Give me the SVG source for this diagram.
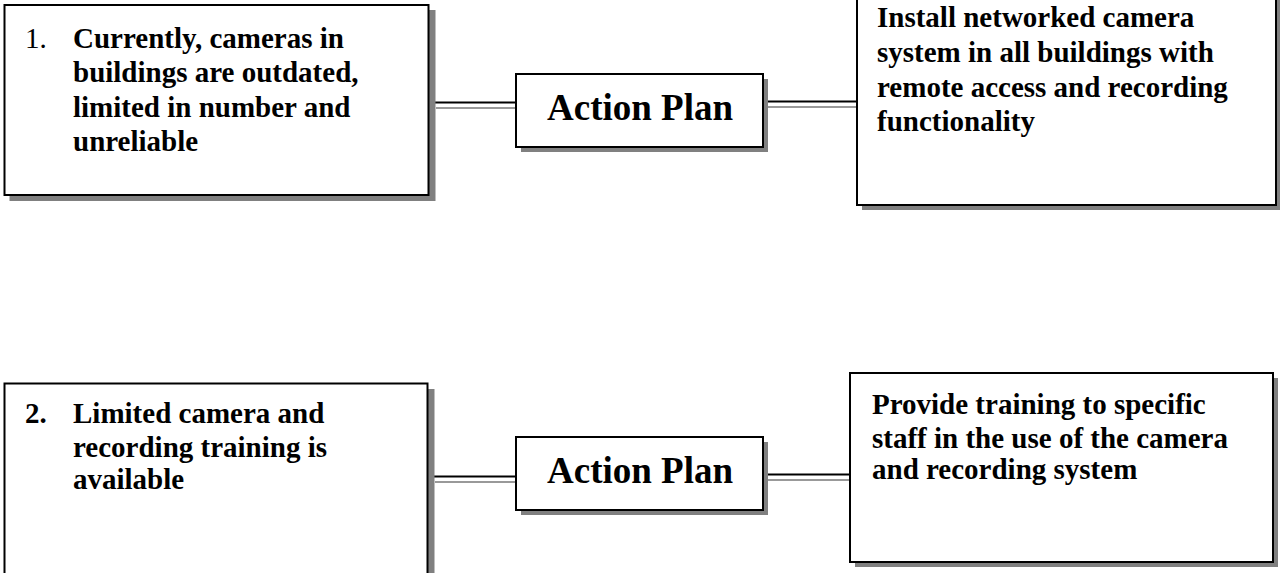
<svg xmlns="http://www.w3.org/2000/svg" width="1280" height="573" viewBox="0 0 1280 573">
<style>
.box{fill:#fff;stroke:#000;stroke-width:2}
.sh{fill:#808080}
.t{font-family:"Liberation Serif","Times New Roman",serif;font-weight:bold;font-size:29px;fill:#000}
.n{font-weight:normal}
.ap{font-family:"Liberation Serif","Times New Roman",serif;font-weight:bold;font-size:37px;fill:#000;text-anchor:middle}
.c{stroke:#000;stroke-width:1.8;fill:none}
.cs{stroke:#999;stroke-width:1.8;fill:none}
</style>
<rect width="1280" height="573" fill="#fff"/>
<g id="connectors">
<line class="cs" x1="436" y1="108" x2="516" y2="108"/>
<line class="c" x1="429" y1="102.5" x2="516" y2="102.5"/>
<line class="cs" x1="768" y1="107" x2="860" y2="107"/>
<line class="c" x1="763" y1="101.5" x2="857" y2="101.5"/>
<line class="cs" x1="435" y1="482" x2="516" y2="482"/>
<line class="c" x1="428" y1="476.5" x2="516" y2="476.5"/>
<line class="cs" x1="768" y1="480" x2="857" y2="480"/>
<line class="c" x1="763" y1="474.5" x2="850" y2="474.5"/>
</g>
<g id="problem1">
<rect class="sh" x="9.5" y="10" width="426" height="191"/>
<rect class="box" x="4.5" y="5" width="424" height="190"/>
<text class="t" x="25" y="47.5"><tspan class="n">1.</tspan></text>
<text class="t" x="73" y="47.5">Currently, cameras in</text>
<text class="t" x="73" y="82">buildings are outdated,</text>
<text class="t" x="73" y="116.5">limited in number and</text>
<text class="t" x="73" y="151">unreliable</text>
</g>
<g id="action1">
<rect class="sh" x="521" y="79" width="247" height="73"/>
<rect class="box" x="516" y="74" width="247" height="73"/>
<text class="ap" x="640" y="120">Action Plan</text>
</g>
<g id="solution1">
<rect class="sh" x="862" y="-5" width="418" height="215"/>
<rect class="box" x="857" y="-10" width="419" height="215"/>
<text class="t" x="877" y="27">Install networked camera</text>
<text class="t" x="877" y="62">system in all buildings with</text>
<text class="t" x="877" y="97">remote access and recording</text>
<text class="t" x="877" y="131">functionality</text>
</g>
<g id="problem2">
<rect class="sh" x="9.5" y="389" width="425" height="200"/>
<rect class="box" x="4.5" y="383.5" width="423" height="200"/>
<text class="t" x="25" y="423">2.</text>
<text class="t" x="73" y="423">Limited camera and</text>
<text class="t" x="73" y="457">recording training is</text>
<text class="t" x="73" y="489">available</text>
</g>
<g id="action2">
<rect class="sh" x="521" y="442" width="247" height="73"/>
<rect class="box" x="516" y="437" width="247" height="73"/>
<text class="ap" x="640" y="483">Action Plan</text>
</g>
<g id="solution2">
<rect class="sh" x="855" y="378" width="423" height="189"/>
<rect class="box" x="850" y="373" width="423" height="189"/>
<text class="t" x="872" y="414">Provide training to specific</text>
<text class="t" x="872" y="447.5">staff in the use of the camera</text>
<text class="t" x="872" y="479">and recording system</text>
</g>
</svg>
